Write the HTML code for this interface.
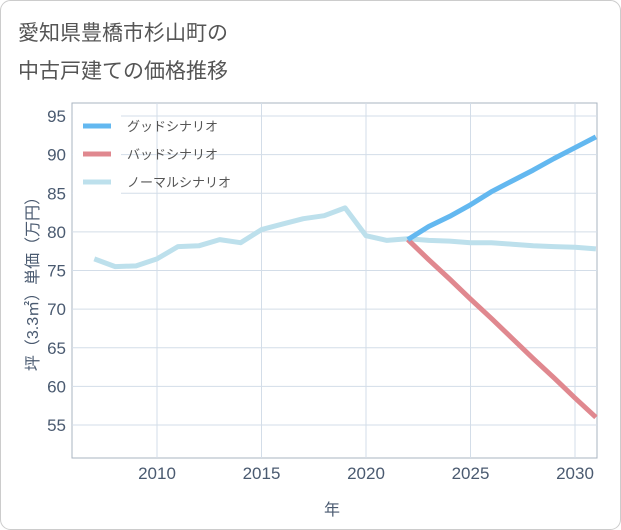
<!DOCTYPE html>
<html><head><meta charset="utf-8"><style>
body{margin:0;background:#fff;}
#wrap{position:relative;width:621px;height:530px;overflow:hidden;}
svg text{font-family:"Liberation Sans","Noto Sans CJK JP",sans-serif;}
</style></head><body>
<div id="wrap">
<svg id="chart" width="621" height="530" xmlns="http://www.w3.org/2000/svg">
<rect x="0.5" y="0.5" width="620" height="529" rx="10" fill="#fff" stroke="#ccc"/>
<text x="18" y="40" font-size="21" fill="#555">愛知県豊橋市杉山町の</text>
<text x="18" y="78" font-size="21" fill="#555">中古戸建ての価格推移</text>
<g id="grid"></g>
<g id="axes"></g>
<g id="series"></g>
<g id="legend"></g>
<text x="332" y="515" font-size="16" fill="#4a5a70" text-anchor="middle">年</text>
<text transform="translate(38,280) rotate(-90)" font-size="16" fill="#4a5a70" text-anchor="middle">坪（3.3㎡）単価（万円）</text>
</svg>
</div>
<script>
const years=[2007,2008,2009,2010,2011,2012,2013,2014,2015,2016,2017,2018,2019,2020,2021,2022,2023,2024,2025,2026,2027,2028,2029,2030,2031];
const normalValues=[76.5,75.5,75.6,76.5,78.1,78.2,79.0,78.6,80.3,81.0,81.7,82.1,83.1,79.5,78.9,79.1,78.9,78.8,78.6,78.6,78.4,78.2,78.1,78.0,77.8];
const futureYears=[2022,2023,2024,2025,2026,2027,2028,2029,2030,2031];
const goodValues=[79.0,80.7,82.0,83.5,85.2,86.6,88.0,89.5,90.9,92.3];
const badValues=[79.0,76.4,73.9,71.3,68.8,66.2,63.6,61.1,58.5,56.0];
const xTicks=[2010,2015,2020,2025,2030];
const yTicks=[55,60,65,70,75,80,85,90,95];
const legendLabels=["グッドシナリオ","バッドシナリオ","ノーマルシナリオ"];
const L=72,R=597,T=103,B=458;
const xs=y=>157+(y-2010)*20.9;
const ys=v=>116+(95-v)*7.725;
const NS="http://www.w3.org/2000/svg";
function mk(tag,attrs,parent,text){const e=document.createElementNS(NS,tag);for(const k in attrs)e.setAttribute(k,attrs[k]);if(text!==undefined)e.textContent=text;document.getElementById(parent).appendChild(e);return e;}
let e=mk('rect',{x:L,y:T,width:R-L,height:B-T,fill:'#fff',stroke:'#aab4c0'},'grid');


yTicks.forEach(v=>{
 let g=mk('line',{x1:L,x2:R,y1:ys(v),y2:ys(v),stroke:'#d3dde8'},'grid');
 
 
 let t=mk('text',{x:L-6,y:ys(v)+6,'font-size':17,fill:'#4a5a70','text-anchor':'end'},'axes',String(v));
 
 
});
xTicks.forEach(v=>{
 let g=mk('line',{x1:xs(v),x2:xs(v),y1:T,y2:B,stroke:'#d3dde8'},'grid');
 
 
 let t=mk('text',{x:xs(v),y:B+21,'font-size':17,fill:'#4a5a70','text-anchor':'middle'},'axes',String(v));
 
 
});
function line(xv,yv,color,name){
 const d=xv.map((x,i)=>(i?'L':'M')+xs(x).toFixed(1)+','+ys(yv[i]).toFixed(1)).join(' ');
 let p=mk('path',{d:d,fill:'none',stroke:color,'stroke-width':5,'stroke-linejoin':'round'},'series');
 
 
}
line(years,normalValues,'#bde0ec','normal-scenario-line');
line(futureYears,badValues,'#e0888f','bad-scenario-line');
line(futureYears,goodValues,'#63b8f0','good-scenario-line');
let lb=mk('rect',{x:L+1,y:T+1,width:48,height:95,fill:'#fff'},'legend');


const lc=['#63b8f0','#e0888f','#bde0ec'];
legendLabels.forEach((s,i)=>{
 const y=126+i*28;
 let l=mk('line',{x1:83,x2:111,y1:y,y2:y,stroke:lc[i],'stroke-width':5},'legend');
 
 
 let t=mk('text',{x:127,y:y+5,'font-size':13,fill:'#555'},'legend',s);
 
 
});
</script>
</body></html>
